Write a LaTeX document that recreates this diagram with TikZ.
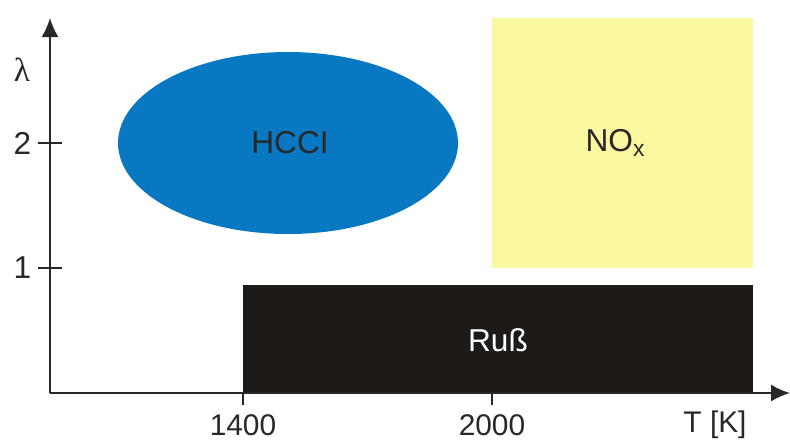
\documentclass[tikz,border=0pt]{standalone}
\usepackage{fontspec}
\setmainfont{Liberation Sans}
\newfontfamily\greekserif{Liberation Serif}
\usetikzlibrary{arrows.meta}
\definecolor{hccblue}{RGB}{8,120,194}
\definecolor{noxyellow}{RGB}{250,248,160}
\definecolor{russblack}{RGB}{30,26,24}
\definecolor{axisgray}{RGB}{40,40,40}
\tikzset{
  axis/.style={draw=axisgray, line width=1.1pt, -{Latex[length=0.38cm,width=0.34cm]}},
  tick/.style={draw=axisgray, line width=1pt},
  lab/.style={font=\fontsize{18}{20}\selectfont, text=axisgray},
  xlab/.style={font=\fontsize{17}{19}\selectfont, text=axisgray, inner sep=1pt}
}
\begin{document}
\begin{tikzpicture}
                        \useasboundingbox (-1.0,-0.96) rectangle (14.8,7.86);

                        \fill[noxyellow] (8.84,2.5) rectangle (14.06,7.5);
                        \fill[russblack] (3.86,0) rectangle (14.06,2.16);
                        \fill[hccblue] (4.76,5.0) ellipse (3.4 and 1.82);

                        \node[lab] (hcci) at (4.8,5.0) {HCCI};
                        \node[lab] (nox) at (11.3,5.0) {NO\raisebox{-0.35ex}{\fontsize{13}{14}\selectfont x}};
                        \node[lab, text=white] (russ) at (8.96,1.06) {Ruß};

                        \coordinate (o) at (0,0);
                        \coordinate (ytop) at (0,7.5);
                        \coordinate (xend) at (14.8,0);
                        \draw[axis] (o) -- (ytop);
                        \draw[axis] (o) -- (xend);

                        \draw[tick] (-0.24,5.0) -- (0.24,5.0) node[lab, pos=0, left] (y2) {2};
                        \draw[tick] (-0.24,2.5) -- (0.24,2.5) node[lab, pos=0, left] (y1) {1};
                        \draw[tick] (3.86,0) -- (3.86,-0.24);
                        \draw[tick] (8.84,0) -- (8.84,-0.24);

                        \node[lab, font=\greekserif\fontsize{19}{20}\selectfont] (lam) at (-0.56,6.46) {λ};
                        \node[xlab] (x1) at (3.86,-0.64) {1400};
                        \node[xlab] (x2) at (8.84,-0.64) {2000};
                        \node[xlab] (tk) at (13.3,-0.64) {T [K]};
                    \end{tikzpicture}
\end{document}
